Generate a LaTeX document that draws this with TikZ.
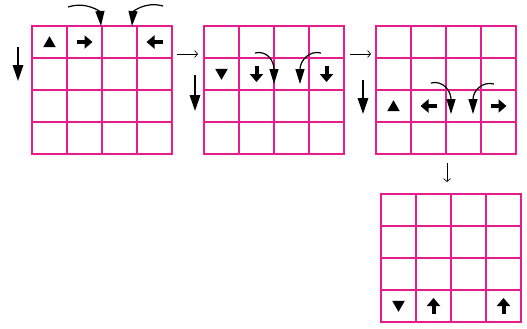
\documentclass[tikz,border=0pt]{standalone}
\usetikzlibrary{arrows.meta,shapes.geometric,calc}
\definecolor{gridpink}{RGB}{232,28,140}

\begin{document}
\begin{tikzpicture}[x=1bp,y=-1bp,
  gridbox/.style={draw=gridpink,line width=1.5bp,minimum width=140bp,
    minimum height=128bp,inner sep=0pt,outer sep=0pt},
  gridline/.style={draw=gridpink,line width=1.5bp},
  tri/.style={regular polygon,regular polygon sides=3,fill=black,
    minimum size=14.5bp,inner sep=0pt},
  blk/.style={line width=4bp,-{Triangle[length=8bp,width=13bp]}},
  swing/.style={line width=1.2bp,-{Triangle[length=15bp,width=9bp]}},
  drop/.style={line width=1.6bp,-{Triangle[length=16bp,width=10.5bp]}},
  goes/.style={line width=.7bp,-{Straight Barb[length=3bp,width=7bp]}}]
  \useasboundingbox (0,0) rectangle (527,328);

  % the four grids
  \node[gridbox] (g1) at (102,90) {};
  \node[gridbox] (g2) at (274,90) {};
  \node[gridbox] (g3) at (446,90) {};
  \node[gridbox] (g4) at (451,258) {};
  \foreach \g in {g1,g2,g3,g4} {
    \foreach \i in {1,2,3} {
      \draw[gridline] ($(\g.north west)+(\i*35,0)$) -- ($(\g.south west)+(\i*35,0)$);
      \draw[gridline] ($(\g.north west)+(0,\i*32)$) -- ($(\g.north east)+(0,\i*32)$);
    }
    \foreach \i in {1,...,4}
      \foreach \j in {1,...,4}
        \coordinate (\g-\i\j) at ($(\g.north west)+(\i*35-17.5,\j*32-16)$);
  }

  % first grid
  \node[tri,yshift=-1.5bp] (m1) at (g1-11) {};
  \draw[blk] ([xshift=-8bp]g1-21) -- ([xshift=8bp]g1-21);
  \draw[blk] ([xshift=8bp]g1-41) -- ([xshift=-8bp]g1-41);
  \draw[swing] ($(g1.north west)+(36,-19)$) .. controls ($(g1.north west)+(55,-25)$)
    and ($(g1.north west)+(68,-14)$) .. ($(g1.north west)+(69,0)$);
  \draw[swing] ($(g1.north west)+(131,-20)$) .. controls ($(g1.north west)+(113,-25)$)
    and ($(g1.north west)+(101,-14)$) .. ($(g1.north west)+(100,0)$);
  \draw[drop] ($(g1.north west)+(-14,21)$) -- ($(g1.north west)+(-14,55)$);

  % second grid
  \node[tri,shape border rotate=180,yshift=1.5bp] (m2) at (g2-12) {};
  \draw[blk] ([yshift=8bp]g2-22) -- ([yshift=-8bp]g2-22);
  \draw[blk] ([yshift=8bp]g2-42) -- ([yshift=-8bp]g2-42);
  \draw[swing] ($(g2.north west)+(51,27)$) .. controls ($(g2.north west)+(63,24)$)
    and ($(g2.north west)+(70,35)$) .. ($(g2.north west)+(70,58)$);
  \draw[swing] ($(g2.north west)+(117,27)$) .. controls ($(g2.north west)+(105,24)$)
    and ($(g2.north west)+(96,35)$) .. ($(g2.north west)+(96,58)$);
  \draw[drop] ($(g2.north west)+(-9,49)$) -- ($(g2.north west)+(-9,85)$);

  % third grid
  \node[tri,yshift=-1.5bp] (m3) at (g3-13) {};
  \draw[blk] ([xshift=8bp]g3-23) -- ([xshift=-8bp]g3-23);
  \draw[blk] ([xshift=-8bp]g3-43) -- ([xshift=8bp]g3-43);
  \draw[swing] ($(g3.north west)+(55,57)$) .. controls ($(g3.north west)+(67,54)$)
    and ($(g3.north west)+(75,65)$) .. ($(g3.north west)+(75,88)$);
  \draw[swing] ($(g3.north west)+(118,58)$) .. controls ($(g3.north west)+(106,55)$)
    and ($(g3.north west)+(97,65)$) .. ($(g3.north west)+(97,88)$);
  \draw[drop] ($(g3.north west)+(-13,54)$) -- ($(g3.north west)+(-13,88)$);

  % fourth grid
  \node[tri,shape border rotate=180,yshift=1.5bp] (m4) at (g4-14) {};
  \draw[blk] ([yshift=-8bp]g4-24) -- ([yshift=8bp]g4-24);
  \draw[blk] ([yshift=-8bp]g4-44) -- ([yshift=8bp]g4-44);

  % steps between grids
  \draw[goes] ($(g1.north east)+(5,28)$) -- ($(g2.north west)+(-6,28)$);
  \draw[goes] ($(g2.north east)+(6,28)$) -- ($(g3.north west)+(-5,28)$);
  \draw[goes] ($(g3.south)+(1,9)$) -- ($(g4.north)+(-4,-12)$);
\end{tikzpicture}
\end{document}
